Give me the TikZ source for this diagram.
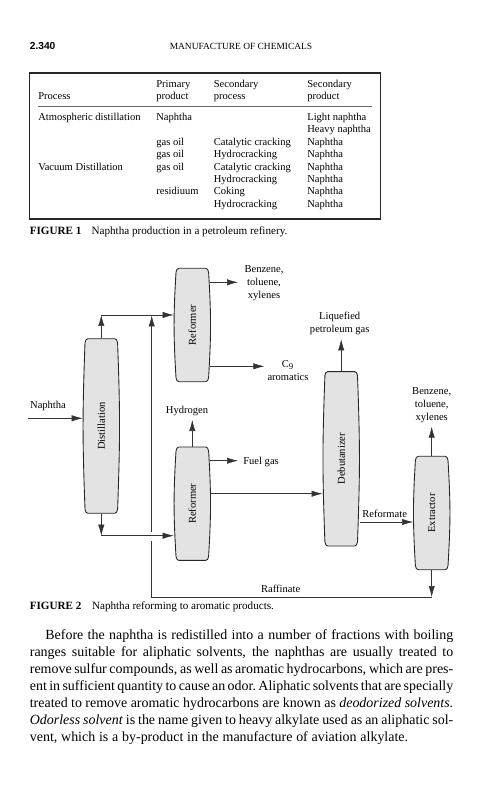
\documentclass[tikz,border=0pt]{standalone}
\usepackage{graphicx}
\usepackage{fontspec}
\setmainfont{Liberation Serif}
\setsansfont{Liberation Sans}
\usetikzlibrary{arrows.meta,positioning,calc}

% vessel: name, x, y, half height, label
\newcommand{\vessel}[5]{
  \begin{scope}[shift={(#2,#3)}]
    \draw[vesselline] (-13.4,{-#4}) -- (13.4,{-#4})
      .. controls (15,{-#4}) and (15.9,{1.5-#4}) .. (16.3,{4-#4})
      .. controls (17.6,{-0.55*#4}) and (18.25,{-0.25*#4}) .. (18.25,0)
      .. controls (18.25,{0.25*#4}) and (17.6,{0.55*#4}) .. (16.3,{#4-4})
      .. controls (15.9,{#4-1.5}) and (15,#4) .. (13.4,#4)
      -- (-13.4,#4)
      .. controls (-15,#4) and (-15.9,{#4-1.5}) .. (-16.3,{#4-4})
      .. controls (-17.6,{0.55*#4}) and (-18.25,{0.25*#4}) .. (-18.25,0)
      .. controls (-18.25,{-0.25*#4}) and (-17.6,{-0.55*#4}) .. (-16.3,{4-#4})
      .. controls (-15.9,{1.5-#4}) and (-15,{-#4}) .. (-13.4,{-#4}) -- cycle;
  \end{scope}
  \node[vesselbox, minimum height={2*#4*0.02cm}] (#1) at (#2,#3) {\rotatebox{90}{#5}};
}

\begin{document}
\begin{tikzpicture}[
  x=0.02cm, y=-0.02cm,
  font=\fontsize{6}{7.4}\selectfont,
  >={Latex[length=2.2mm,width=1.25mm]},
  vesselline/.style={draw=black!85, line width=0.5pt, fill=black!11},
  vesselbox/.style={inner sep=0pt, minimum width=0.73cm},
  pipe/.style={draw=black!80, line width=0.3pt},
  sidepipe/.style={pipe, shorten <=-0.7pt},
  stream/.style={align=center, inner sep=0pt},
  cell/.style={anchor=base west, inner sep=0pt},
  caption/.style={anchor=base west, inner sep=0pt, font=\fontsize{6.33}{7}\selectfont}
]
  \useasboundingbox (0,0) rectangle (481,800);

  % Page head
  \node[anchor=base west, inner sep=0pt, font=\sffamily\bfseries\fontsize{5.8}{7}\selectfont] (pageno) at (29.5,50) {2.340};
  \node[anchor=base, inner sep=0pt, font=\fontsize{5.37}{7}\selectfont] (pagehead) at (241,50) {MANUFACTURE OF CHEMICALS};

  % Table
  \node[draw=black!85, line width=0.6pt, minimum width=7.02cm, minimum height=2.92cm, inner sep=0pt] (tableframe) at (204.7,146) {};
  \coordinate (ruleleft) at (38.3,106.3);
  \coordinate (ruleright) at (371.7,106.3);
  \draw[pipe, draw=black!60] (ruleleft) -- (ruleright);
  \foreach \x/\y/\txt [count=\i] in {
    156/88/Primary, 213.5/88/Secondary, 307/88/Secondary,
    38/100/Process, 156/100/product, 213.5/100/process, 307/100/product,
    38/121/Atmospheric distillation, 156/121/Naphtha, 307/121/Light naphtha,
    307/133/Heavy naphtha,
    156/146/gas oil, 213.5/146/Catalytic cracking, 307/146/Naphtha,
    156/158/gas oil, 213.5/158/Hydrocracking, 307/158/Naphtha,
    38/171/Vacuum Distillation, 156/171/gas oil, 213.5/171/Catalytic cracking, 307/171/Naphtha,
    213.5/183/Hydrocracking, 307/183/Naphtha,
    156/195/residiuum, 213.5/195/Coking, 307/195/Naphtha,
    213.5/208/Hydrocracking, 307/208/Naphtha}
    \node[cell] (cell\i) at (\x,\y) {\txt};

  \node[caption] (figonelabel) at (29.5,235) {\textbf{FIGURE 1}};
  \node[caption] (figonetext) at (91.3,235) {Naphtha production in a petroleum refinery.};

  % Vessels
  \vessel{distillation}{101.3}{426}{87.3}{Distillation}
  \vessel{reformertop}{192.3}{325}{56.7}{Reformer}
  \vessel{reformerlow}{192.3}{503.7}{56.7}{Reformer}
  \vessel{debutanizer}{341.2}{458.8}{87.2}{Debutanizer}
  \vessel{extractor}{431.7}{513}{56.7}{Extractor}

  % Stream labels
  \node[stream] (naphtha) at (48,406) {Naphtha};
  \node[stream] (btxtop) at (264,283) {Benzene,\\toluene,\\xylenes};
  \node[stream] (cnine) at (288,370.5) {C\textsubscript{9}\\aromatics};
  \node[stream] (hydrogen) at (187,411) {Hydrogen};
  \node[stream, anchor=west] (fuelgas) at (243,462) {Fuel gas};
  \node[stream] (lpg) at (339.7,323.5) {Liquefied\\petroleum gas};
  \node[stream] (btxlow) at (431.7,405) {Benzene,\\toluene,\\xylenes};
  \node[stream] (reformate) at (384.7,513.5) {Reformate};
  \node[stream] (raffinate) at (280.7,589) {Raffinate};

  % Free ends and bends
  \coordinate (feed) at (28,418.3);
  \coordinate (topbend) at (101.3,315);
  \coordinate (lowbend) at (101.3,535.7);
  \coordinate (btxtopend) at (238,282.3);
  \coordinate (cnineend) at (264.3,366.3);
  \coordinate (fuelend) at (238,460.7);
  \coordinate (hydrogenend) at (192.3,420);
  \coordinate (lpgend) at (341.2,339.3);
  \coordinate (btxlowend) at (431.7,426.7);
  \coordinate (raffcorner) at (431.7,597);
  \coordinate (raffleft) at (151.7,597);
  \coordinate (raffgap) at (151.7,541);
  \coordinate (recyclestart) at (151.7,531.5);
  \coordinate (recycleend) at (151.7,315.5);

  % Distillation
  \draw[pipe,->] (feed) -- (feed -| distillation.west);
  \draw[pipe,->] (distillation.north) -- (topbend);
  \draw[pipe,->] (topbend) -- (topbend -| reformertop.west);
  \draw[pipe,->] (distillation.south) -- (lowbend);
  \draw[pipe,->] (lowbend) -- (lowbend -| reformerlow.west);

  % Upper reformer
  \draw[sidepipe,->] (btxtopend -| reformertop.east) -- (btxtopend);
  \draw[sidepipe,->] (cnineend -| reformertop.east) -- (cnineend);

  % Lower reformer
  \draw[pipe,->] (reformerlow.north) -- (hydrogenend);
  \draw[sidepipe,->] (fuelend -| reformerlow.east) -- (fuelend);
  \draw[pipe,->] ([yshift=0.2cm]reformerlow.east) -- ([yshift=0.2cm]reformerlow.east -| debutanizer.west);

  % Debutanizer and extractor
  \draw[pipe,->] (debutanizer.north) -- (lpgend);
  \draw[pipe,->] (debutanizer.east |- extractor.west) ++(0,9) -- ($(extractor.west)+(0,9)$);
  \draw[pipe,->] (extractor.north) -- (btxlowend);
  \draw[pipe,->] (extractor.south) -- (raffcorner);
  \draw[pipe] (raffcorner) -- (raffleft) -- (raffgap);
  \draw[pipe,->] (recyclestart) -- (recycleend);

  \node[caption] (figtwolabel) at (29.5,609) {\textbf{FIGURE 2}};
  \node[caption] (figtwotext) at (91.7,609) {Naphtha reforming to aromatic products.};

  % Running text
  \node[anchor=north west, inner sep=0pt, text width=8.47cm, align=justify,
    font=\fontsize{7.95}{9.67}\selectfont] (bodytext) at (29.5,629.5)
    {\spaceskip=0.27em plus 0.6em minus 0.13em \xspaceskip=\spaceskip \tolerance=9999 \hyphenpenalty=10000
     \hspace*{0.31cm}Before the naphtha is redistilled into a number of fractions with boiling\linebreak
     ranges suitable for aliphatic solvents, the naphthas are usually treated to\linebreak
     remove sulfur compounds, as well as aromatic hydrocarbons, which are pres-\linebreak
     ent in sufficient quantity to cause an odor. Aliphatic solvents that are specially\linebreak
     treated to remove aromatic hydrocarbons are known as \textit{deodorized solvents.}\linebreak
     \textit{Odorless solvent} is the name given to heavy alkylate used as an aliphatic sol-\linebreak
     vent, which is a by-product in the manufacture of aviation alkylate.};
\end{tikzpicture}
\end{document}
